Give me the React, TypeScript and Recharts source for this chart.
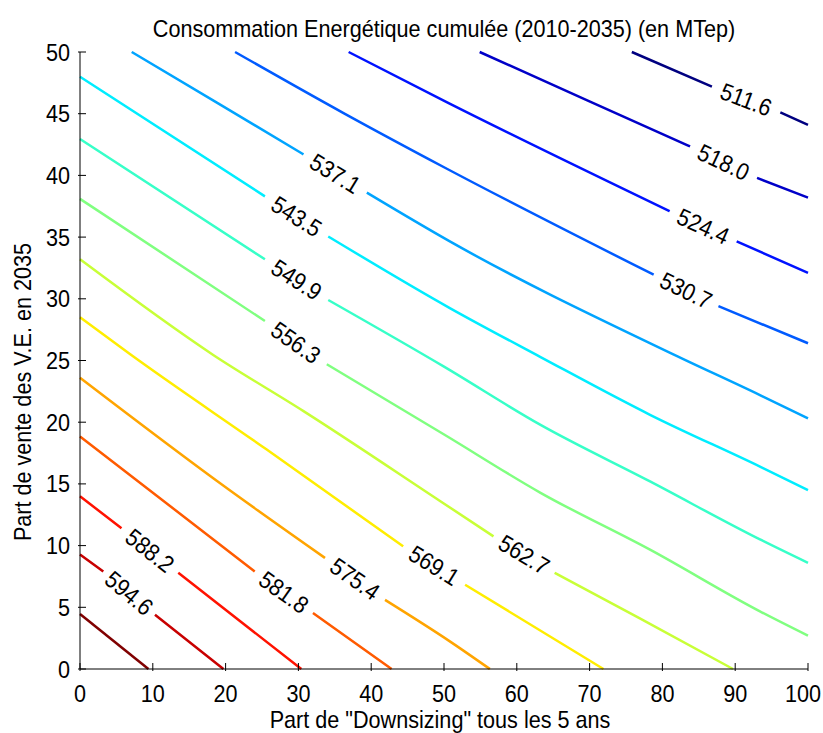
import { ComposedChart, Line, Scatter, XAxis, YAxis } from 'recharts'

// contour levels (MTep), low -> high
const LEVELS = [511.6, 518.0, 524.4, 530.7, 537.1, 543.5, 549.9, 556.3, 562.7, 569.1, 575.4, 581.8, 588.2, 594.6, 601.0]

// contour paths as [downsizing %, VE share %]
// null marks the gap where the inline label sits
const C_511_6 = [[75.8, 50], [86.8, 47.2], null, [96.2, 45.1], [100, 44.1]]
const C_518_0 = [[54.9, 50], [69.6, 46.1], [83.8, 42.35], null, [93.0, 39.8], [100, 38.2]]
const C_524_4 = [[36.9, 50], [50.5, 45.9], [81.0, 37.1], null, [90.2, 34.65], [100, 32.1]]
const C_530_7 = [[21.3, 50], [36.2, 45.05], [50.2, 40.6], [78.8, 31.95], null, [87.7, 29.4], [100, 26.4]]
const C_537_1 = [[7.1, 50], [18.8, 45.9], [30.7, 41.7], null, [39.4, 38.6], [50.8, 34.65], [81.5, 25.5], [93.4, 22.2], [100, 20.3]]
const C_543_5 = [[0, 48.0], [25.4, 38.3], null, [34.1, 35.05], [50.8, 29.25], [63.2, 25.3], [78.3, 20.6], [93.4, 16.4], [100, 14.5]]
const C_549_9 = [[0, 42.95], [25.4, 33.2], null, [34.1, 29.9], [50.0, 24.5], [63.2, 19.8], [78.3, 15.2], [93.4, 10.5], [100, 8.6]]
const C_556_3 = [[0, 38.1], [25.4, 28.2], null, [33.9, 24.7], [50.3, 18.9], [63.2, 14.3], [78.3, 9.67], [93.4, 4.67], [100, 2.7]]
const C_562_7 = [[0, 33.2], [18.3, 25.45], [30.7, 20.9], [49.5, 13.6], [56.8, 10.75], null, [65.2, 7.8], [76.9, 4.1], [89.7, 0]]
const C_569_1 = [[0, 28.5], [6.9, 25.5], [25.6, 17.8], [44.4, 9.94], null, [52.9, 6.83], [71.9, 0]]
const C_575_4 = [[0, 23.6], [19.2, 15.07], [33.65, 9.0], null, [41.9, 5.6], [50.8, 2.24], [56.3, 0]]
const C_581_8 = [[0, 18.85], [24.0, 7.9], null, [32.0, 4.54], [42.8, 0]]
const C_588_2 = [[0, 14.0], [5.7, 11.4], null, [13.5, 7.8], [30.4, 0]]
const C_594_6 = [[0, 9.27], [3.2, 7.9], null, [10.3, 4.4], [19.7, 0]]
const C_601_0 = [[0, 4.46], [9.4, 0]]

const CONTOURS = [C_511_6, C_518_0, C_524_4, C_530_7, C_537_1, C_543_5, C_549_9, C_556_3,
  C_562_7, C_569_1, C_575_4, C_581_8, C_588_2, C_594_6, C_601_0]

const X_TICKS = [0, 10, 20, 30, 40, 50, 60, 70, 80, 90, 100]
const Y_TICKS = [0, 5, 10, 15, 20, 25, 30, 35, 40, 45, 50]

// matlab jet, one per level
const JET = ['#000080', '#0000C8', '#0012FF', '#005BFF', '#00A4FF', '#00EDFF', '#37FFC8', '#80FF80',
  '#C8FF37', '#FFED00', '#FFA400', '#FF5B00', '#FF1200', '#C80000', '#800000']

const W = 823
const H = 733
const MARGIN = { top: 52, right: 15, bottom: 0, left: 0 }
const Y_AXIS_W = 80
const X_AXIS_H = 64
const PLOT_W = W - Y_AXIS_W - MARGIN.right
const PLOT_H = H - MARGIN.top - X_AXIS_H
const PX_X = PLOT_W / 100
const PX_Y = PLOT_H / 50

const FONT = "'Liberation Sans', Arial, Helvetica, sans-serif"
const FS = 24
const SX = 0.9 // matlab text is tall and narrow

type Pt = number[] | null

function toLineData(pts: Pt[]) {
  return pts.map((p, i) => {
    if (p) return { x: p[0], y: p[1] }
    const a = pts[i - 1] as number[]
    const b = pts[i + 1] as number[]
    return { x: (a[0] + b[0]) / 2, y: null }
  })
}

const labelData = CONTOURS.flatMap((pts, i) => {
  const k = pts.indexOf(null)
  if (k < 0) return []
  const a = pts[k - 1] as number[]
  const b = pts[k + 1] as number[]
  const angle = (Math.atan2((a[1] - b[1]) * PX_Y, (b[0] - a[0]) * PX_X) * 180) / Math.PI
  return [{ x: (a[0] + b[0]) / 2, y: (a[1] + b[1]) / 2, text: LEVELS[i].toFixed(1), angle }]
})

function StretchText({ x, y, angle = 0, anchor = 'middle', baseline, children }: any) {
  return (
    <text
      transform={`translate(${x},${y}) rotate(${angle}) scale(${SX},1)`}
      textAnchor={anchor}
      dominantBaseline={baseline}
      fontSize={FS}
      fontFamily={FONT}
      fill="#000"
    >
      {children}
    </text>
  )
}

const XTick = ({ x, y, payload }: any) => (
  <g>
    <line x1={x} x2={x} y1={y} y2={y - 8} stroke="#000" />
    {/* keep the last label inside the frame */}
    <StretchText x={Math.min(x, W - 20)} y={y + 31}>{payload.value}</StretchText>
  </g>
)

const YTick = ({ x, y, payload }: any) => (
  <g>
    <line x1={x} x2={x + 8} y1={y} y2={y} stroke="#000" />
    <StretchText x={x - 8} y={y + 8.5} anchor="end">{payload.value}</StretchText>
  </g>
)

const ContourLabel = ({ cx, cy, payload }: any) => (
  <StretchText x={cx} y={cy} angle={payload.angle} baseline="central">{payload.text}</StretchText>
)

const XTitle = () => <StretchText x={440} y={728}>Part de "Downsizing" tous les 5 ans</StretchText>
const YTitle = () => <StretchText x={31} y={392} angle={-90}>Part de vente des V.E. en 2035</StretchText>

export default function App() {
  return (
    <div style={{ position: 'absolute', left: 0, top: 0, width: W, height: H, background: '#fff' }}>
      <div
        style={{
          position: 'absolute',
          left: Y_AXIS_W,
          width: PLOT_W,
          top: 17,
          textAlign: 'center',
          fontFamily: FONT,
          fontSize: FS,
          lineHeight: '24px',
          whiteSpace: 'nowrap',
          transform: `scaleX(${SX})`,
        }}
      >
        Consommation Energétique cumulée (2010-2035) (en MTep)
      </div>
      <ComposedChart width={W} height={H} margin={MARGIN}>
        <XAxis
          type="number"
          dataKey="x"
          domain={[0, 100]}
          ticks={X_TICKS}
          interval={0}
          height={X_AXIS_H}
          axisLine={{ stroke: '#000' }}
          tickLine={false}
          tickSize={0}
          tick={XTick}
          label={XTitle}
        />
        <YAxis
          type="number"
          domain={[0, 50]}
          ticks={Y_TICKS}
          interval={0}
          width={Y_AXIS_W}
          axisLine={{ stroke: '#000' }}
          tickLine={false}
          tickSize={0}
          tick={YTick}
          label={YTitle}
        />
        {CONTOURS.map((pts, i) => (
          <Line
            key={LEVELS[i]}
            data={toLineData(pts)}
            dataKey="y"
            type="monotone"
            stroke={JET[i]}
            strokeWidth={2.5}
            dot={false}
            activeDot={false}
            connectNulls={false}
            isAnimationActive={false}
          />
        ))}
        <Scatter data={labelData} dataKey="y" shape={ContourLabel} isAnimationActive={false} />
      </ComposedChart>
    </div>
  )
}
